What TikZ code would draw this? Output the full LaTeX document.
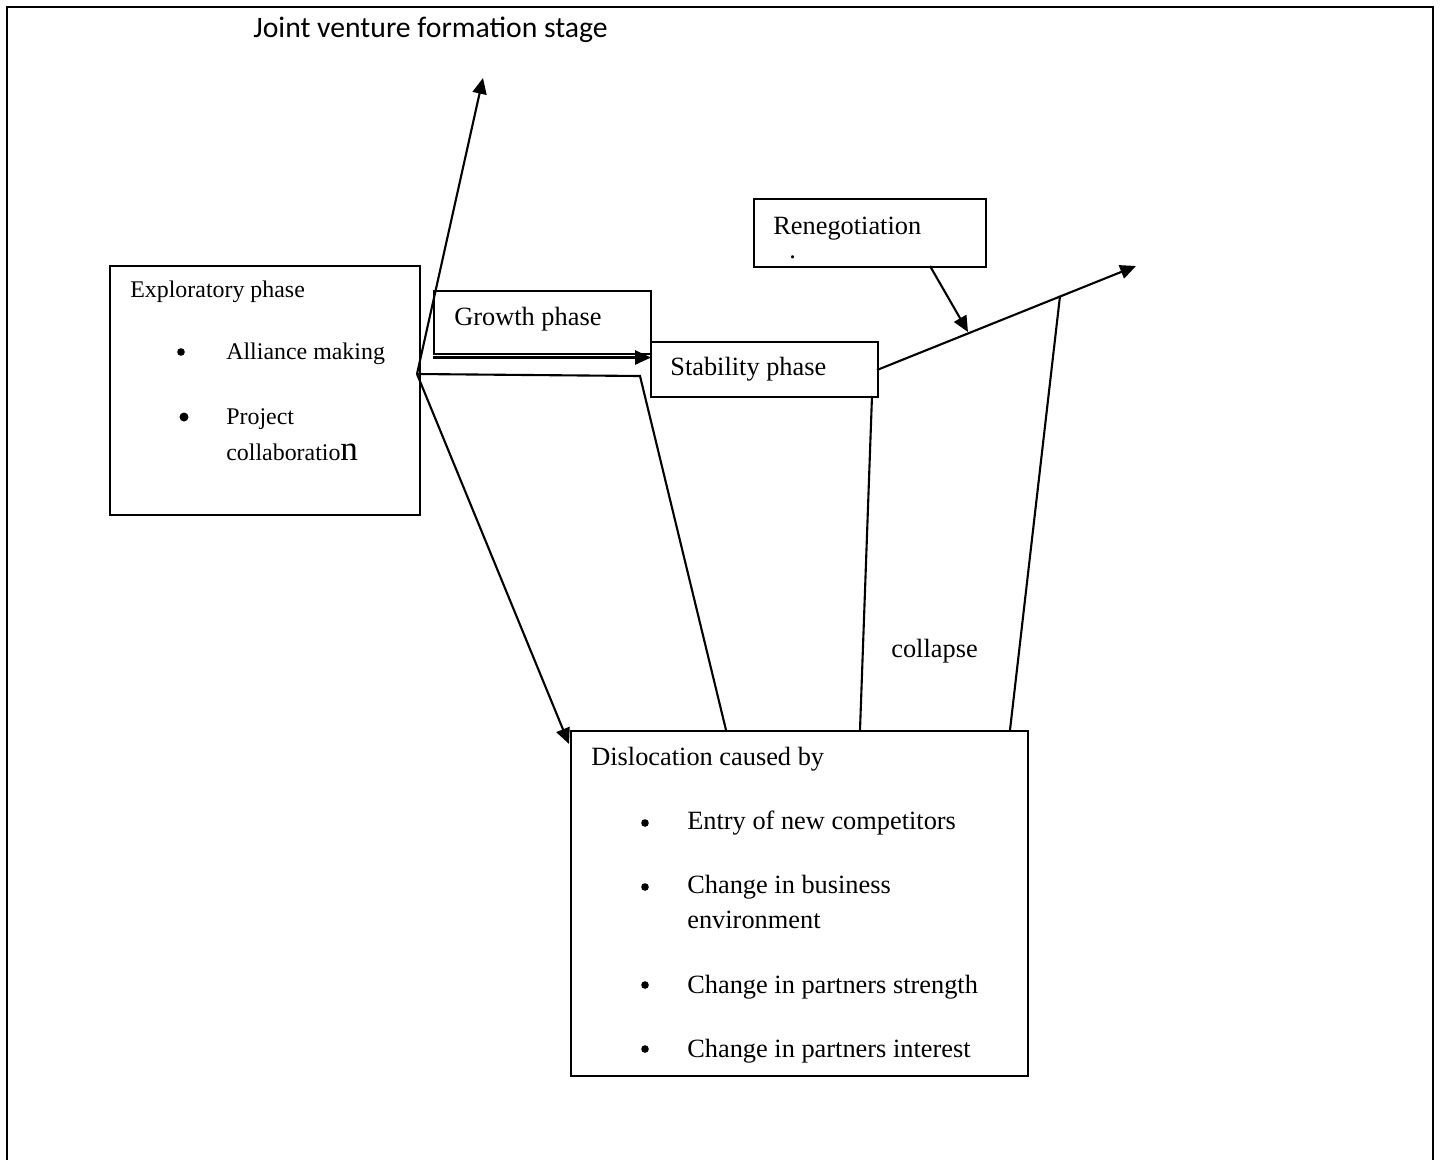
\documentclass[tikz,border=0pt]{standalone}
\usepackage{fontspec}
\setmainfont{Liberation Serif}
\newfontfamily\titlefont{Carlito}
\usetikzlibrary{arrows.meta}
\begin{document}
\begin{tikzpicture}[x=0.02cm,y=-0.02cm,
  box/.style={draw,line width=1.1pt,anchor=north west,inner sep=0pt},
  txt/.style={anchor=base west,inner sep=0pt,font=\fontsize{15}{18}\selectfont},
  stxt/.style={anchor=base west,inner sep=0pt,font=\fontsize{13.6}{16}\selectfont},
  conn/.style={line width=1.2pt},
  arr/.style={line width=1.2pt,-{Triangle[length=9pt,width=8pt]}},
  dotb/.style={fill=black}]
\useasboundingbox (0,0) rectangle (1441,1160);
% frame
\draw[line width=1.4pt] (7,1165) -- (7,7) -- (1433,7) -- (1433,1165);
% title
\node[anchor=base west,inner sep=0pt,font=\titlefont\fontsize{16.9}{20}\selectfont] (title) at (253,37) {Joint venture formation stage};
% boxes
\node[box,minimum width=6.2cm,minimum height=4.98cm] (expl) at (109,265) {};
\node[box,minimum width=4.34cm,minimum height=1.26cm] (growth) at (433,290) {};
\node[box,minimum width=4.54cm,minimum height=1.1cm] (stab) at (650,341) {};
\node[box,minimum width=4.64cm,minimum height=1.36cm] (reneg) at (753,198) {};
\node[box,minimum width=9.14cm,minimum height=6.9cm] (disl) at (570,730) {};
% texts
\node[stxt] (t1) at (130,297) {Exploratory phase};
\node[stxt] (t2) at (226,359) {Alliance making};
\node[stxt] (t3) at (226,424) {Project};
\node[stxt] (t4) at (226,460) {collaboratio{\fontsize{20}{20}\selectfont n}};
\fill[dotb] (181,352) circle (3.8);
\fill[dotb] (184,417) circle (4.5);
\node[txt] (t5) at (454,325) {Growth phase};
\node[txt] (t6) at (670,375) {Stability phase};
\node[txt] (t7) at (773,234) {Renegotiation};
\node[txt] (t8) at (789,258) {.};
\node[txt] (t9) at (891,657) {collapse};
\node[txt] (t10) at (591,765) {Dislocation caused by};
\node[txt] (t11) at (687,829) {Entry of new competitors};
\node[txt] (t12) at (687,893) {Change in business};
\node[txt] (t13) at (687,928) {environment};
\node[txt] (t14) at (687,993) {Change in partners strength};
\node[txt] (t15) at (687,1057) {Change in partners interest};
\fill[dotb] (645,823) circle (3.8);
\fill[dotb] (645,887) circle (3.8);
\fill[dotb] (645,985) circle (3.8);
\fill[dotb] (645,1049) circle (3.8);
% coordinates
\coordinate (hub) at (417,374);
\coordinate (up) at (483,78);
\coordinate (bend) at (640,376);
\coordinate (d1) at (726,730);
\coordinate (d2) at (860,730);
\coordinate (d3) at (1010,730);
\coordinate (s1) at (872,396);
\coordinate (s2) at (877,370);
\coordinate (tip) at (1136,266);
\coordinate (r1) at (930,266);
\coordinate (r2) at (968,332);
\coordinate (onl) at (1060,296);
\coordinate (g1) at (433,357.5);
\coordinate (g2) at (651,357.5);
\coordinate (dl) at (569,744);
% connectors
\draw[arr] (hub) -- (up);
\draw[arr] (g1) -- (g2);
\draw[conn] (hub) -- (bend) -- (d1);
\draw[arr] (hub) -- (dl);
\draw[conn] (s1) -- (d2);
\draw[arr] (s2) -- (tip);
\draw[arr] (r1) -- (r2);
\draw[conn] (onl) -- (d3);
\end{tikzpicture}
\end{document}
